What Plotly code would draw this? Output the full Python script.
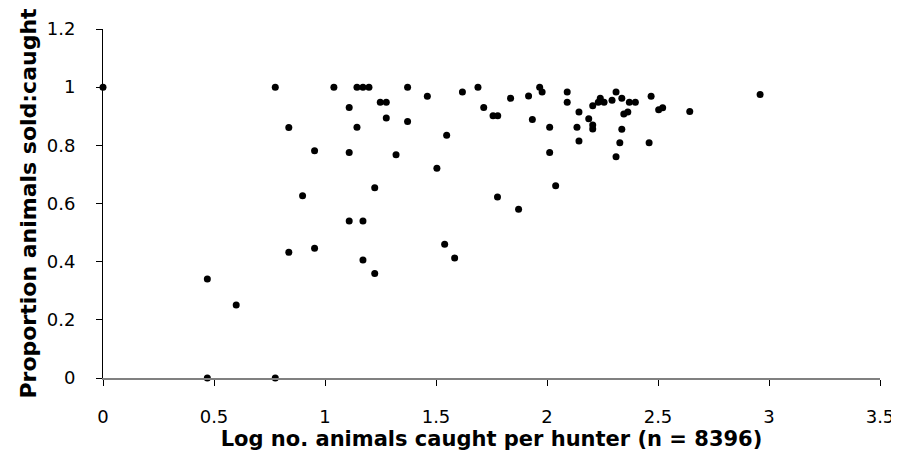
import plotly.graph_objects as go

# Log no. animals caught per hunter vs proportion sold:caught
log_caught = [
    0.00, 0.47, 0.47, 0.60, 0.776, 0.776, 0.837, 0.837, 0.899, 0.953,
    0.953, 1.040, 1.109, 1.109, 1.109, 1.144, 1.144, 1.171, 1.171, 1.171,
    1.198, 1.224, 1.224, 1.249, 1.276, 1.276, 1.320, 1.372, 1.372, 1.461,
    1.504, 1.539, 1.548, 1.584, 1.619, 1.689, 1.715, 1.757, 1.778, 1.777,
    1.836, 1.872, 1.917, 1.934, 1.967, 1.978, 2.012, 2.012, 2.039, 2.091,
    2.091, 2.144, 2.135, 2.144, 2.188, 2.206, 2.206, 2.206, 2.240, 2.231,
    2.257, 2.293, 2.311, 2.337, 2.371, 2.398, 2.346, 2.364, 2.337, 2.328,
    2.311, 2.469, 2.460, 2.503, 2.521, 2.643, 2.960,
]
prop_sold = [
    1.000, 0.340, 0.000, 0.251, 1.000, 0.000, 0.861, 0.432, 0.627, 0.781,
    0.446, 1.000, 0.930, 0.775, 0.540, 1.000, 0.862, 1.000, 0.540, 0.406,
    1.000, 0.654, 0.359, 0.948, 0.948, 0.894, 0.768, 1.000, 0.882, 0.969,
    0.721, 0.460, 0.835, 0.413, 0.983, 1.000, 0.930, 0.902, 0.902, 0.622,
    0.962, 0.580, 0.970, 0.889, 1.000, 0.983, 0.862, 0.775, 0.661, 0.983,
    0.948, 0.915, 0.862, 0.815, 0.891, 0.870, 0.856, 0.936, 0.962, 0.948,
    0.948, 0.955, 0.983, 0.962, 0.948, 0.948, 0.908, 0.915, 0.855, 0.809,
    0.761, 0.969, 0.809, 0.922, 0.929, 0.916, 0.975,
]

x_ticks = [0, 0.5, 1, 1.5, 2, 2.5, 3, 3.5]
y_ticks = [0, 0.2, 0.4, 0.6, 0.8, 1, 1.2]

fig = go.Figure()

fig.add_trace(go.Scatter(
    x=log_caught,
    y=prop_sold,
    mode='markers',
    marker=dict(size=7, color='black'),
    cliponaxis=False,
    showlegend=False
))

# page body has an 8px margin; keep the page well inside the window so no scrollbars appear
fig.update_layout(
    width=891,
    height=447,
    margin=dict(l=95, r=19, t=21, b=77),
    paper_bgcolor='white',
    plot_bgcolor='white',
    font=dict(family='DejaVu Sans, Arial, sans-serif', size=18, color='black')
)

fig.update_xaxes(
    range=[0, 3.5],
    tickvals=x_ticks,
    ticktext=[f'{v:g}' for v in x_ticks],
    automargin=False,
    showgrid=False,
    zeroline=False,
    showline=True,
    linecolor='#808080',
    linewidth=2,
    ticks='outside',
    ticklen=6,
    tickcolor='black',
    ticklabelstandoff=15,
    title=dict(
        text='Log no. animals caught per hunter (n = 8396)',
        font=dict(family='DejaVu Sans', size=21, weight='bold'),
        standoff=3
    )
)

fig.update_yaxes(
    range=[0, 1.2],
    tickvals=y_ticks,
    ticktext=[f'{v:g}' for v in y_ticks],
    automargin=False,
    showgrid=False,
    zeroline=False,
    showline=True,
    linecolor='black',
    linewidth=1,
    ticks='outside',
    ticklen=6,
    tickcolor='black',
    ticklabelstandoff=17,
    title=dict(
        text='Proportion animals sold:caught',
        font=dict(family='DejaVu Sans', size=22, weight='bold'),
        standoff=4
    )
)

fig.write_html("out.html")
